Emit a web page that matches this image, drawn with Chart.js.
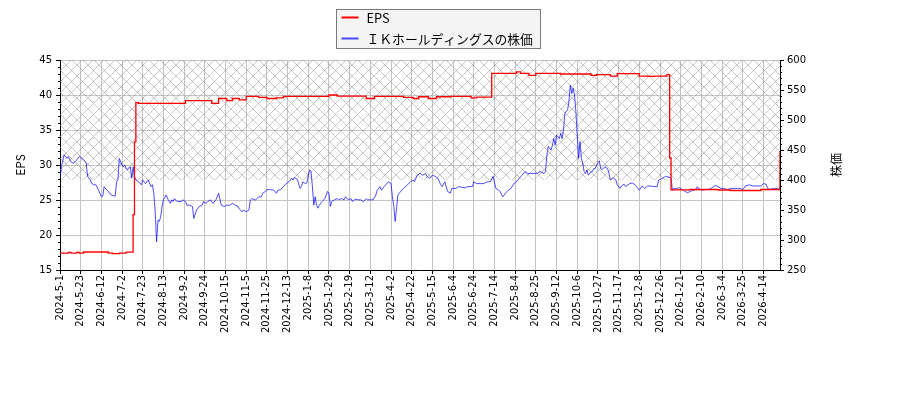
<!DOCTYPE html>
<html>
<head>
<meta charset="utf-8">
<script src="https://cdn.jsdelivr.net/npm/chart.js@4/dist/chart.umd.min.js"></script>
<style>
html,body{margin:0;padding:0;background:#ffffff;}
canvas{display:block;}
</style>
</head>
<body>
<canvas id="c" width="900" height="400" style="width:900px;height:400px"></canvas>
<script>
// ---- data ----
const tickLabels = ['2024-5-1','2024-5-23','2024-6-12','2024-7-2','2024-7-23','2024-8-13','2024-9-2','2024-9-24','2024-10-15','2024-11-5','2024-11-25','2024-12-13','2025-1-8','2025-1-29','2025-2-19','2025-3-12','2025-4-2','2025-4-22','2025-5-15','2025-6-4','2025-6-24','2025-7-14','2025-8-4','2025-8-25','2025-9-12','2025-10-6','2025-10-27','2025-11-17','2025-12-8','2025-12-26','2026-1-21','2026-2-10','2026-3-4','2026-3-25','2026-4-14'];
const tickEvery = 15;      // trading days between labelled ticks
const lastDay = 522;       // index of the last trading day

const epsDays   = [0, 6, 8, 12, 14, 17, 35, 38, 43, 48, 53, 54, 55, 57, 91, 110, 115, 121, 125, 130, 135, 144, 150, 157, 162, 195, 201, 222, 228, 249, 256, 260, 267, 273, 283, 298, 302, 313, 331, 334, 340, 345, 363, 385, 389, 399, 404, 420, 426, 431, 440, 442, 443, 457, 477, 486, 508, 522];
const epsValues = [17.42, 17.52, 17.42, 17.52, 17.42, 17.57, 17.42, 17.35, 17.42, 17.55, 22.9, 33.3, 38.9, 38.8, 39.2, 38.8, 39.5, 39.2, 39.5, 39.3, 39.8, 39.65, 39.5, 39.6, 39.8, 40.0, 39.85, 39.5, 39.8, 39.65, 39.5, 39.75, 39.5, 39.75, 39.8, 39.6, 39.7, 43.1, 43.3, 43.1, 42.8, 43.1, 43.0, 42.8, 42.9, 42.7, 43.05, 42.7, 42.65, 42.7, 42.9, 31.0, 26.45, 26.5, 26.43, 26.36, 26.5, 32.0];

const priceDays = [0,1,3,5,6,8,10,12,14,16,18,19,20,22,23,25,26,28,30,31,32,34,35,37,40,41,42,43,45,46,47,48,49,51,52,53,54,55,57,59,60,62,64,66,67,68,69,70,71,72,73,74,75,77,78,80,81,82,83,85,88,89,91,92,94,96,97,99,101,103,104,106,107,109,111,113,115,116,117,119,121,123,125,127,129,130,132,133,135,137,138,139,141,142,144,146,147,149,150,152,155,157,158,160,162,164,166,167,168,169,170,172,173,174,175,176,178,179,180,181,182,183,184,185,186,187,188,190,192,193,194,195,196,197,199,201,202,204,206,207,209,211,212,214,216,218,220,222,223,224,226,227,229,230,232,233,235,237,238,240,241,242,243,244,245,247,249,252,254,256,257,259,261,263,265,266,268,270,272,274,276,277,279,281,283,284,287,289,293,296,299,300,302,305,307,310,312,314,316,318,319,321,323,325,327,329,331,333,335,337,339,341,343,346,348,351,352,353,354,356,357,358,359,360,362,363,364,365,366,368,369,370,371,372,373,374,375,376,377,378,379,380,381,382,383,385,386,387,388,389,391,392,393,395,397,398,399,401,403,404,406,407,409,410,413,415,417,418,420,422,424,426,428,430,433,434,437,439,441,443,444,445,447,449,450,452,453,455,457,458,461,462,464,466,468,470,472,474,475,477,479,481,484,486,489,491,493,495,497,500,502,506,508,510,512,513,515,517,518,520,521,522];
const priceValues = [402,422,442,436,439,430,428,433,439,436,431,428,406,400,394,392,392,383,372,373,389,383,381,375,373,397,400,436,425,422,425,419,417,422,403,422,406,400,397,392,400,394,400,389,392,378,347,297,333,331,339,356,367,375,369,361,367,364,369,364,364,367,364,358,358,356,336,350,356,358,364,361,364,367,361,367,378,367,358,356,358,358,361,358,356,352,347,350,347,350,367,369,367,367,372,372,378,381,384,384,383,378,383,384,389,394,397,400,403,400,404,401,394,386,389,397,394,395,408,417,414,389,358,372,358,353,358,364,369,375,381,378,356,364,367,369,367,369,367,372,367,369,364,368,367,367,364,369,367,367,367,367,375,383,389,383,389,394,397,394,372,356,331,353,375,381,386,392,397,400,397,408,411,408,411,406,403,408,406,403,392,389,397,381,378,386,386,389,387,389,389,397,394,394,394,397,397,406,386,383,381,372,378,383,386,394,397,403,408,414,411,411,411,411,414,411,414,442,456,450,458,469,458,475,469,478,469,483,511,517,531,558,544,553,542,514,475,436,464,436,428,414,411,417,408,414,414,419,419,425,432,419,417,422,419,411,400,404,400,392,386,390,393,389,394,395,392,389,383,390,386,390,390,389,389,400,403,406,405,403,383,386,386,387,386,383,381,379,381,382,384,389,384,383,384,384,386,389,391,389,386,386,384,386,386,386,386,384,390,392,390,390,390,394,393,386,384,386,386,386,384,389];

const epsRange = [15, 45], epsStep = 5, epsMinor = 1;
const priceRange = [250, 600], priceStep = 50, priceMinor = 10;
const hatchLow = 400, hatchHigh = 600;   // shaded price band

const seriesNames = ['EPS', '\uFF29\uFF2B\u30DB\u30FC\u30EB\u30C7\u30A3\u30F3\u30B0\u30B9\u306E\u682A\u4FA1'];
const axisTitles = ['EPS', '\u682A\u4FA1'];

// ---- styles ----
const RED = '#ff0000';
const BLUE = 'rgba(0,0,255,0.7)';
const GRID = '#c4c4c4';
const TICKFONT = "'DejaVu Sans', sans-serif";
const TEXTFONT = "'Noto Sans CJK JP', 'DejaVu Sans', sans-serif";

const hatchPlugin = {
  id: 'hatchBand',
  beforeDatasetsDraw(chart) {
    const {ctx, chartArea: a, scales} = chart;
    const yTop = scales.y2.getPixelForValue(hatchHigh);
    const yBot = scales.y2.getPixelForValue(hatchLow);
    const h = yBot - yTop, P = 11;
    ctx.save();
    ctx.beginPath();
    ctx.rect(a.left, yTop, a.right - a.left, h);
    ctx.clip();
    ctx.strokeStyle = 'rgba(140,140,140,0.6)';
    ctx.lineWidth = 0.8;
    ctx.beginPath();
    for (let x = a.left - h - P; x < a.right + P; x += P) {
      ctx.moveTo(x, yBot); ctx.lineTo(x + h, yTop);
      ctx.moveTo(x, yTop); ctx.lineTo(x + h, yBot);
    }
    ctx.stroke();
    ctx.restore();
  }
};

const decorPlugin = {
  id: 'decor',
  afterDraw(chart) {
    const {ctx, chartArea: a, scales} = chart;
    ctx.save();
    // minor ticks
    ctx.strokeStyle = '#000'; ctx.lineWidth = 1;
    ctx.beginPath();
    for (let v = epsRange[0]; v <= epsRange[1]; v += epsMinor) {
      if (v % epsStep === 0) continue;
      const y = Math.round(scales.y.getPixelForValue(v)) + 0.5;
      ctx.moveTo(a.left - 2, y); ctx.lineTo(a.left, y);
    }
    for (let v = priceRange[0]; v <= priceRange[1]; v += priceMinor) {
      if (v % priceStep === 0) continue;
      const y = Math.round(scales.y2.getPixelForValue(v)) + 0.5;
      ctx.moveTo(a.right, y); ctx.lineTo(a.right + 2, y);
    }
    ctx.stroke();

    // axis titles
    ctx.fillStyle = '#000';
    ctx.font = '12px ' + TEXTFONT;
    ctx.textAlign = 'center'; ctx.textBaseline = 'middle';
    ctx.save(); ctx.translate(20, (a.top + a.bottom) / 2); ctx.rotate(-Math.PI / 2);
    ctx.fillText(axisTitles[0], 0, 0); ctx.restore();
    ctx.save(); ctx.translate(836, (a.top + a.bottom) / 2); ctx.rotate(-Math.PI / 2);
    ctx.fillText(axisTitles[1], 0, 0); ctx.restore();

    // legend
    const bx = 336.5, by = 9.5, bw = 204, bh = 39;
    ctx.fillStyle = '#f4f4f4';
    ctx.fillRect(bx, by, bw, bh);
    ctx.strokeStyle = '#7a7a7a'; ctx.lineWidth = 1;
    ctx.strokeRect(bx, by, bw, bh);
    const rows = [{y: 17.5, c: RED}, {y: 38.5, c: BLUE}];
    ctx.font = '12.8px ' + TEXTFONT;
    ctx.textAlign = 'left'; ctx.textBaseline = 'middle';
    rows.forEach((r, i) => {
      ctx.strokeStyle = r.c; ctx.lineWidth = 2;
      ctx.beginPath(); ctx.moveTo(341.5, r.y); ctx.lineTo(358.5, r.y); ctx.stroke();
      ctx.fillStyle = '#000';
      ctx.fillText(seriesNames[i], 366.5, r.y + 0.5);
    });
    ctx.restore();
  }
};

const epsPoints = epsDays.map((d, i) => ({x: d, y: epsValues[i]}));
const pricePoints = priceDays.map((d, i) => ({x: d, y: priceValues[i]}));

new Chart(document.getElementById('c'), {
  type: 'line',
  data: {
    datasets: [
      {label: seriesNames[0], data: epsPoints, yAxisID: 'y', borderColor: RED, borderWidth: 1.3,
       pointRadius: 0, stepped: 'before', fill: false},
      {label: seriesNames[1], data: pricePoints, yAxisID: 'y2', borderColor: BLUE, borderWidth: 1,
       pointRadius: 0, tension: 0, fill: false}
    ]
  },
  options: {
    responsive: false,
    devicePixelRatio: 1,
    animation: false,
    layout: {padding: {top: 60, left: 0, right: 0, bottom: 0}},
    plugins: {legend: {display: false}, tooltip: {enabled: false}},
    scales: {
      x: {
        type: 'linear', min: 0, max: lastDay,
        afterBuildTicks: (s) => { s.ticks = tickLabels.map((_, i) => ({value: i * tickEvery})); },
        afterFit: (s) => { s.height = 130; },
        ticks: {
          autoSkip: false, maxRotation: 90, minRotation: 90, padding: 1,
          color: '#000', font: {family: TICKFONT, size: 10},
          callback: (v) => tickLabels[Math.round(v / tickEvery)] || ''
        },
        grid: {color: GRID, lineWidth: 1, tickColor: '#000', tickLength: 4},
        border: {color: '#000', width: 1}
      },
      y: {
        position: 'left', min: epsRange[0], max: epsRange[1],
        afterFit: (s) => { s.width = 60; },
        ticks: {stepSize: epsStep, padding: 4, color: '#000', font: {family: TICKFONT, size: 10}},
        grid: {color: GRID, lineWidth: 1, tickColor: '#000', tickLength: 4},
        border: {color: '#000', width: 1}
      },
      y2: {
        position: 'right', min: priceRange[0], max: priceRange[1],
        afterFit: (s) => { s.width = 120; },
        ticks: {stepSize: priceStep, padding: 3, color: '#000', font: {family: TICKFONT, size: 10}},
        grid: {drawOnChartArea: false, tickColor: '#000', tickLength: 4},
        border: {color: '#000', width: 1}
      }
    }
  },
  plugins: [hatchPlugin, decorPlugin]
});
</script>
</body>
</html>
